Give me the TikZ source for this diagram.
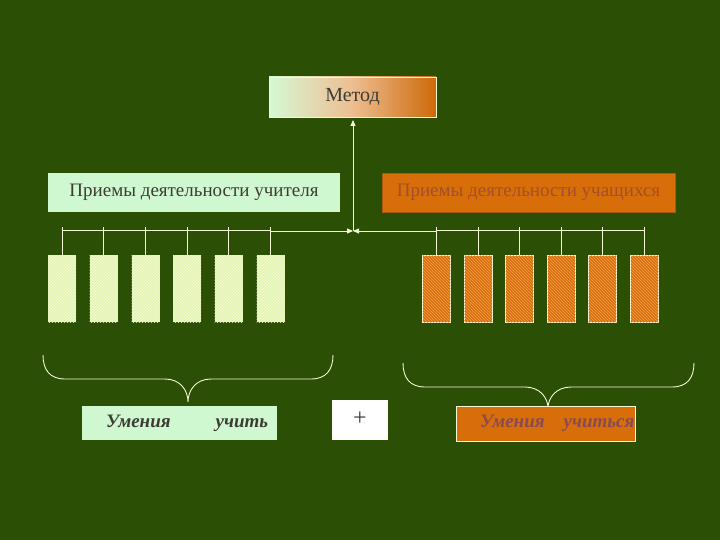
\documentclass[tikz,border=0pt]{standalone}
\usepackage{fontspec}
\setmainfont{Liberation Serif}
\usetikzlibrary{patterns,arrows.meta}
\definecolor{bg}{HTML}{2A4F05}
\definecolor{mint}{HTML}{D0F8D0}
\definecolor{lgreen}{HTML}{E2F4B0}
\definecolor{lgreenh}{HTML}{F6FCDC}
\definecolor{orng}{HTML}{D86E0A}
\definecolor{orngh}{HTML}{F0A050}
\definecolor{cream}{HTML}{F4F8D4}
\definecolor{txtdark}{HTML}{3C3C34}
\definecolor{txtbrown}{HTML}{A0502A}
\definecolor{txtplum}{HTML}{8A4A50}
\begin{document}
\begin{tikzpicture}[x=1pt,y=-1pt,
  box/.style={inner sep=0pt, outer sep=0pt, align=center},
  tbox/.style={box, fill=lgreen, minimum width=28pt, minimum height=67pt,
    postaction={pattern=north east lines, pattern color=lgreenh}},
  sbox/.style={box, fill=orng, draw=cream, line width=0.8pt, minimum width=28pt, minimum height=67pt,
    postaction={pattern=north west lines, pattern color=orngh}},
  ln/.style={draw=cream, line width=0.9pt},
  arr/.style={ln, -{Triangle[length=6pt,width=5pt]}}
]
\fill[bg] (0,0) rectangle (720,540);
\useasboundingbox (0,0) rectangle (720,540);

% Method box
\node[box, draw=cream, line width=0.8pt, left color=mint!90!white, right color=orng!95!black,
  middle color=white!55!orng, minimum width=167pt, minimum height=40pt,
  font=\fontsize{20}{22}\selectfont, text=txtdark] (metod) at (352.5,97) {\raisebox{3pt}{Метод}};

% teacher / student boxes
\node[box, fill=mint, minimum width=292pt, minimum height=39pt,
  font=\fontsize{19}{22}\selectfont, text=txtdark] (teacher) at (194,192.5) {Приемы деятельности учителя};
\node[box, fill=orng, draw=orng!80!black, line width=0.6pt, minimum width=293pt, minimum height=39pt,
  font=\fontsize{19}{22}\selectfont, text=txtbrown] (student) at (528.5,192.5) {Приемы деятельности учащихся};

% small boxes
\node[tbox] (t1) at (62,288.5) {};
\node[tbox] (t2) at (103.5,288.5) {};
\node[tbox] (t3) at (145.5,288.5) {};
\node[tbox] (t4) at (187,288.5) {};
\node[tbox] (t5) at (228.5,288.5) {};
\node[tbox] (t6) at (270.5,288.5) {};
\node[sbox] (s1) at (436.5,288.5) {};
\node[sbox] (s2) at (478,288.5) {};
\node[sbox] (s3) at (519.5,288.5) {};
\node[sbox] (s4) at (561.5,288.5) {};
\node[sbox] (s5) at (602.5,288.5) {};
\node[sbox] (s6) at (644.5,288.5) {};

% bracket lines
\coordinate (ly) at (0,230);
\coordinate (ty) at (0,227);
\draw[ln] (t1.north |- ly) -- (t6.north |- ly);
\foreach \i in {1,...,6} {\draw[ln] (t\i.north) -- (t\i.north |- ty);}
\draw[ln] (s1.north |- ly) -- (s6.north |- ly);
\foreach \i in {1,...,6} {\draw[ln] (s\i.north) -- (s\i.north |- ty);}

% connectors
\coordinate (lb) at (271,231);
\coordinate (rb) at (437,231);
\coordinate (jn) at (353,231);
\draw[arr] (lb) -- (jn);
\draw[arr] (rb) -- (jn);
\draw[arr, shorten >=3pt] (jn) -- (metod.south -| jn);

% braces
\draw[ln] (43,355) .. controls (43,370) and (50,379) .. (65,379) -- (165,379)
  .. controls (180,379) and (188,390) .. (188,402)
  .. controls (188,390) and (196,379) .. (211,379) -- (311,379)
  .. controls (326,379) and (333,370) .. (333,355);
\draw[ln] (403,363) .. controls (403,378) and (410,387) .. (425,387) -- (525,387)
  .. controls (540,387) and (548,398) .. (548,408)
  .. controls (548,398) and (556,387) .. (571,387) -- (672,387)
  .. controls (687,387) and (694,378) .. (694,363);

% bottom boxes
\node[box, fill=mint, minimum width=195pt, minimum height=34pt,
  font=\fontsize{19}{22}\selectfont\bfseries\itshape, text=txtdark] (uu) at (179.5,423)
  {\makebox[195pt][l]{\hspace*{24pt}Умения\hspace{45pt}учить}};
\node[box, fill=white, minimum width=56pt, minimum height=40pt,
  font=\fontsize{24}{26}\selectfont, text=txtdark] (plus) at (360,420) {\raisebox{2pt}{+}};
\node[box, fill=orng, draw=cream, line width=0.8pt, minimum width=179pt, minimum height=35pt,
  font=\fontsize{19}{22}\selectfont\bfseries\itshape, text=txtplum] (us) at (545.5,423.5)
  {\makebox[179pt][l]{\hspace*{24pt}Умения\hspace{19pt}учиться}};
\end{tikzpicture}
\end{document}
